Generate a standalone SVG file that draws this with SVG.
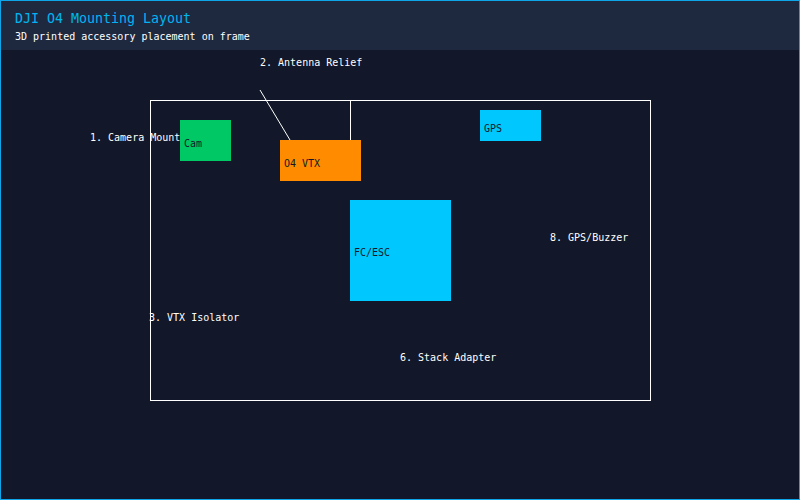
<svg xmlns="http://www.w3.org/2000/svg" width="800" height="500" viewBox="0 0 800 500">
<style>
.mono{font-family:"DejaVu Sans Mono","Liberation Mono",monospace;}
.lbl{font-size:10px;fill:#ffffff;}
.ntxt{font-size:10px;fill:#111827;}
.conn{stroke:#ffffff;stroke-width:1;fill:none;}
</style>
<rect x="0" y="0" width="800" height="500" fill="#121829"/>
<rect x="0" y="0" width="800" height="50" fill="#1e2940"/>
<rect x="0.5" y="0.5" width="799" height="499" fill="none" stroke="#0ea5e9" stroke-width="1"/>
<text class="mono" x="15" y="23" font-size="13.3" fill="#00b4f0">DJI O4 Mounting Layout</text>
<text class="mono" x="15" y="40" font-size="10" fill="#ffffff">3D printed accessory placement on frame</text>
<g id="labels" class="mono lbl">
<text x="90" y="141">1. Camera Mount</text>
<text x="260" y="66">2. Antenna Relief</text>
<text x="149" y="321">3. VTX Isolator</text>
<text x="400" y="361">6. Stack Adapter</text>
<text x="550" y="241">8. GPS/Buzzer</text>
</g>
<g id="frame"><rect x="150.5" y="100.5" width="500" height="300" fill="none" stroke="#ffffff" stroke-width="1"/></g>
<g id="connectors">
<line class="conn" x1="260" y1="90" x2="290" y2="140"/>
<line class="conn" x1="350.5" y1="100" x2="350.5" y2="140"/>
</g>
<g id="cam"><rect x="180" y="120" width="51" height="41" fill="#00c864"/><text class="mono ntxt" x="184" y="147">Cam</text></g>
<g id="vtx"><rect x="280" y="140" width="81" height="41" fill="#ff8c00"/><text class="mono ntxt" x="284" y="167">O4 VTX</text></g>
<g id="gps"><rect x="480" y="110" width="61" height="31" fill="#00c8ff"/><text class="mono ntxt" x="484" y="132">GPS</text></g>
<g id="fc"><rect x="350" y="200" width="101" height="101" fill="#00c8ff"/><text class="mono ntxt" x="354" y="256">FC/ESC</text></g>
</svg>
